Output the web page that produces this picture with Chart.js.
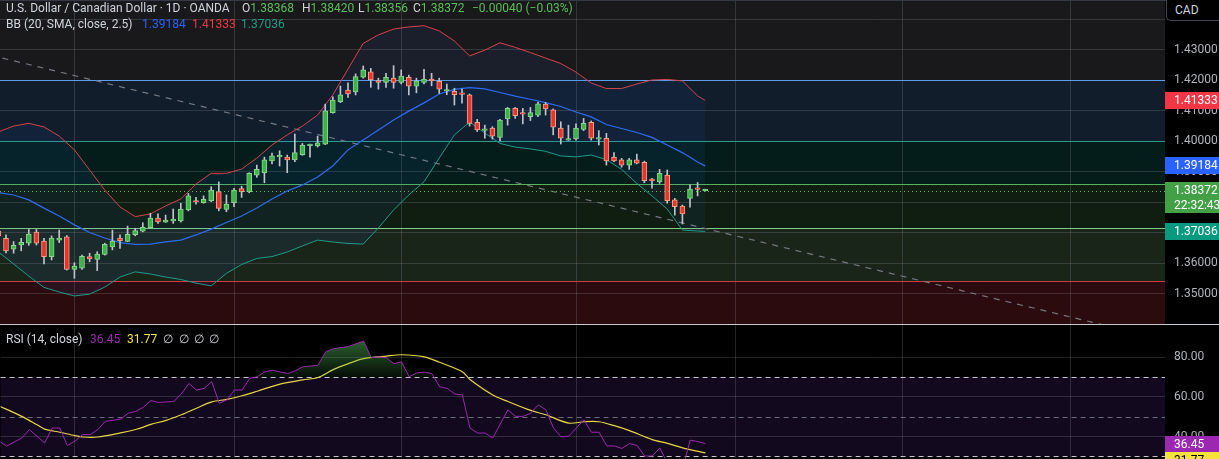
<!DOCTYPE html>
<html>
<head>
<meta charset="utf-8">
<title>USDCAD 1D</title>
<script src="https://cdn.jsdelivr.net/npm/chart.js@4.4.1/dist/chart.umd.min.js"></script>
<style>
  html, body { margin: 0; padding: 0; background: #000; overflow: hidden; }
  #wrap { position: relative; width: 1219px; height: 459px; font-family: Roboto, "Noto Sans", sans-serif; }
  canvas { position: absolute; left: 0; }
  #priceChart { top: 0; }
  #rsiChart { top: 325px; }
  .sep { position: absolute; left: 0; width: 1219px; height: 1px; }
  .lg { position: absolute; font-size: 12px; line-height: 16px; color: #d1d4dc; white-space: nowrap; }
  .up { color: #5cbf5a; }
  #cad { position: absolute; left: 1166px; top: -1px; width: 53px; height: 22px; border: 1px solid #434651; border-right: none;
         border-radius: 0 0 0 5px; box-sizing: border-box; color: #d1d4dc; font-size: 12px; line-height: 20px; padding-left: 8px; background: #000; }
</style>
</head>
<body>
<div id="wrap">
  <canvas id="priceChart" width="1219" height="324"></canvas>
  <div class="sep" style="top:324px;background:#c8cbd2"></div>
  <canvas id="rsiChart" width="1219" height="134"></canvas>
  <div class="sep" style="top:0;background:#363a45"></div>
  <div id="cad">CAD</div>
  <div id="legend"></div>
</div>
<script>
// daily candles, index 0 is the half hidden bar at the left edge
const openP = [1.3705, 1.3681, 1.3645, 1.3659, 1.3665, 1.3701, 1.3672, 1.3621, 1.3675, 1.3686,
  1.3579, 1.3583, 1.3621, 1.3612, 1.3628, 1.3653, 1.3682, 1.3671, 1.3693, 1.3704,
  1.3716, 1.3747, 1.3734, 1.3738, 1.3738, 1.3774, 1.3803, 1.3798, 1.3804, 1.3834,
  1.3776, 1.3798, 1.3844, 1.3834, 1.3888, 1.3896, 1.3935, 1.3948, 1.3947, 1.3938,
  1.3955, 1.3985, 1.3984, 1.3990, 1.4093, 1.4129, 1.4167, 1.4161, 1.4209, 1.4227,
  1.4198, 1.4192, 1.4206, 1.4192, 1.4209, 1.4180, 1.4192, 1.4203, 1.4196, 1.4164,
  1.4163, 1.4155, 1.4151, 1.4061, 1.4035, 1.4042, 1.4012, 1.4072, 1.4107, 1.4089,
  1.4080, 1.4085, 1.4121, 1.4102, 1.4042, 1.4003, 1.4007, 1.4038, 1.4061, 1.4006,
  1.4009, 1.3947, 1.3938, 1.3921, 1.3938, 1.3930, 1.3874, 1.3866, 1.3888, 1.3807,
  1.3787, 1.3812, 1.3843, 1.38368];
const highP = [1.3711, 1.3692, 1.3670, 1.3681, 1.3710, 1.3710, 1.3681, 1.3689, 1.3708, 1.3690,
  1.3601, 1.3626, 1.3632, 1.3637, 1.3665, 1.3708, 1.3692, 1.3721, 1.3714, 1.3732,
  1.3763, 1.3761, 1.3757, 1.3777, 1.3796, 1.3828, 1.3815, 1.3820, 1.3850, 1.3866,
  1.3823, 1.3845, 1.3852, 1.3896, 1.3921, 1.3947, 1.3960, 1.3968, 1.3954, 1.4023,
  1.3992, 1.3990, 1.4016, 1.4121, 1.4145, 1.4180, 1.4191, 1.4220, 1.4246, 1.4238,
  1.4206, 1.4222, 1.4247, 1.4233, 1.4216, 1.4206, 1.4235, 1.4222, 1.4206, 1.4187,
  1.4173, 1.4170, 1.4154, 1.4071, 1.4052, 1.4047, 1.4071, 1.4110, 1.4110, 1.4107,
  1.4110, 1.4128, 1.4126, 1.4105, 1.4063, 1.4052, 1.4056, 1.4074, 1.4066, 1.4034,
  1.4025, 1.3962, 1.3943, 1.3943, 1.3957, 1.3934, 1.3878, 1.3907, 1.3905, 1.3812,
  1.3790, 1.3856, 1.3864, 1.38420];
const lowP = [1.3682, 1.3633, 1.3632, 1.3640, 1.3658, 1.3659, 1.3597, 1.3610, 1.3667, 1.3577,
  1.3550, 1.3579, 1.3604, 1.3575, 1.3626, 1.3643, 1.3648, 1.3670, 1.3689, 1.3702,
  1.3716, 1.3730, 1.3733, 1.3730, 1.3734, 1.3771, 1.3793, 1.3796, 1.3801, 1.3771,
  1.3768, 1.3785, 1.3815, 1.3830, 1.3881, 1.3863, 1.3925, 1.3918, 1.3896, 1.3932,
  1.3953, 1.3947, 1.3980, 1.3988, 1.4091, 1.4126, 1.4143, 1.4151, 1.4206, 1.4176,
  1.4170, 1.4176, 1.4173, 1.4187, 1.4151, 1.4158, 1.4187, 1.4181, 1.4156, 1.4152,
  1.4118, 1.4124, 1.4049, 1.4031, 1.4009, 1.4006, 1.4001, 1.4052, 1.4074, 1.4056,
  1.4067, 1.4080, 1.4085, 1.4020, 1.3990, 1.4002, 1.4003, 1.4034, 1.4003, 1.3987,
  1.3921, 1.3932, 1.3914, 1.3907, 1.3925, 1.3863, 1.3845, 1.3861, 1.3796, 1.3757,
  1.3728, 1.3783, 1.3820, 1.38356];
const closeP = [1.3689, 1.3640, 1.3658, 1.3668, 1.3695, 1.3665, 1.3621, 1.3682, 1.3682, 1.3579,
  1.3590, 1.3622, 1.3613, 1.3629, 1.3661, 1.3672, 1.3673, 1.3694, 1.3706, 1.3717,
  1.3747, 1.3735, 1.3741, 1.3741, 1.3777, 1.3820, 1.3800, 1.3809, 1.3839, 1.3779,
  1.3793, 1.3839, 1.3834, 1.3894, 1.3907, 1.3938, 1.3951, 1.3950, 1.3938, 1.3962,
  1.3987, 1.3987, 1.3994, 1.4099, 1.4134, 1.4151, 1.4154, 1.4211, 1.4233, 1.4200,
  1.4192, 1.4209, 1.4192, 1.4213, 1.4180, 1.4197, 1.4203, 1.4197, 1.4170, 1.4166,
  1.4152, 1.4153, 1.4058, 1.4036, 1.4036, 1.4016, 1.4069, 1.4107, 1.4083, 1.4088,
  1.4093, 1.4122, 1.4105, 1.4045, 1.4009, 1.4008, 1.4042, 1.4058, 1.4009, 1.4008,
  1.3935, 1.3935, 1.3921, 1.3938, 1.3927, 1.3870, 1.3870, 1.3894, 1.3804, 1.3785,
  1.3761, 1.3842, 1.38412, 1.38372];

// Bollinger Bands (20, SMA, close, 2.5)
const bandIdx = [0, 2, 4, 6, 8, 10, 12, 14, 16, 18, 20, 22, 24, 26, 28, 30, 32, 34, 36, 38,
  40, 42, 44, 46, 48, 50, 52, 54, 56, 58, 60, 62, 64, 66, 68, 70, 72, 74, 76, 78,
  80, 82, 84, 86, 88, 90, 92, 93];
const bbUpper = [1.4030, 1.4049, 1.4058, 1.4046, 1.4016, 1.3971, 1.3905, 1.3839, 1.3784, 1.3752,
  1.3761, 1.3787, 1.3810, 1.3859, 1.3894, 1.3894, 1.3908, 1.3944, 1.3987, 1.4020,
  1.4049, 1.4085, 1.4151, 1.4236, 1.4320, 1.4348, 1.4367, 1.4374, 1.4378, 1.4361,
  1.4328, 1.4279, 1.4298, 1.4322, 1.4307, 1.4290, 1.4272, 1.4254, 1.4226, 1.4190,
  1.4172, 1.4172, 1.4187, 1.4200, 1.4202, 1.4197, 1.4148, 1.41333];
const bbMid = [1.3831, 1.3823, 1.3807, 1.3780, 1.3754, 1.3725, 1.3700, 1.3682, 1.3667, 1.3661,
  1.3662, 1.3669, 1.3675, 1.3692, 1.3711, 1.3733, 1.3754, 1.3780, 1.3810, 1.3836,
  1.3856, 1.3882, 1.3918, 1.3971, 1.4003, 1.4036, 1.4069, 1.4098, 1.4125, 1.4154,
  1.4169, 1.4175, 1.4171, 1.4159, 1.4147, 1.4137, 1.4126, 1.4113, 1.4095, 1.4079,
  1.4054, 1.4041, 1.4028, 1.4012, 1.3987, 1.3962, 1.3931, 1.39184];
const bbLower = [1.3636, 1.3597, 1.3557, 1.3520, 1.3505, 1.3492, 1.3498, 1.3521, 1.3554, 1.3571,
  1.3564, 1.3554, 1.3546, 1.3534, 1.3525, 1.3566, 1.3595, 1.3615, 1.3621, 1.3636,
  1.3656, 1.3675, 1.3669, 1.3664, 1.3662, 1.3715, 1.3774, 1.3823, 1.3866, 1.3944,
  1.4020, 1.4062, 1.4026, 1.3992, 1.3980, 1.3974, 1.3966, 1.3951, 1.3948, 1.3954,
  1.3939, 1.3907, 1.3861, 1.3820, 1.3777, 1.3708, 1.3705, 1.37036];

// dashed trend line, two anchors in bar index / price
const trendIdx = [-1, 150];
const trendVal = [1.4281, 1.3369];

// drawn horizontal levels, top to bottom
const zoneLevels = [1.4200, 1.4000, 1.3859, 1.3715, 1.3541];

const priceTicks = [1.35, 1.36, 1.37, 1.38, 1.39, 1.40, 1.41, 1.42, 1.43, 1.44];
const monthIdx = [10, 31, 53, 76, 97, 119, 141];
const countdown = "22:32:43";

// RSI (14, close) and its moving average
const rsiIdx = [0, 1, 3, 4, 6, 7, 8, 9, 10, 11, 12, 13, 14, 16, 17, 18, 19, 20, 21, 23,
  24, 25, 26, 27, 28, 29, 30, 31, 32, 33, 34, 35, 36, 38, 39, 40, 42, 43, 44, 46,
  47, 48, 49, 50, 51, 52, 53, 54, 55, 56, 57, 58, 59, 60, 61, 62, 63, 64, 65, 67,
  68, 69, 70, 71, 72, 73, 74, 75, 77, 78, 79, 80, 81, 82, 83, 84, 85, 86, 87, 88,
  89, 90, 91, 92, 93];
const rsiVal = [37.7, 35.2, 39.3, 43.5, 36.8, 44.3, 44.3, 35.5, 37.7, 41, 41, 43.5, 47.7, 48.8, 51.8, 52.7, 54.8, 58.2, 57.2, 57.7,
  61.5, 66.8, 63.5, 64.3, 67.7, 56.8, 58.5, 63.5, 63.5, 69.3, 70.2, 72.7, 73.5, 71.8, 73.2, 75.2, 76, 82.7, 84.3, 85.5,
  86.8, 88.2, 79.8, 80.2, 79.8, 76.8, 77.7, 70.2, 72.2, 72.5, 71.8, 65.2, 64.3, 61.5, 61, 44.3, 41.8, 41.8, 39.3, 53.5,
  50.2, 50.2, 51.8, 56, 53.5, 44.3, 39.8, 40.2, 48.5, 42.2, 42.2, 35.3, 35.3, 34, 36.5, 35.5, 30.2, 30.2, 34.3, 26.5,
  25.5, 24, 38.2, 37.5, 36.45];
const maIdx = [0, 3, 5, 6, 8, 10, 11, 13, 16, 18, 19, 20, 22, 24, 26, 28, 30, 32, 34, 37,
  40, 42, 44, 46, 48, 51, 53, 56, 58, 61, 62, 65, 67, 70, 72, 75, 77, 79, 81, 83,
  86, 88, 90, 93];
const maVal = [55.5, 50.2, 46, 43.8, 42.2, 40.5, 39.8, 39.8, 41.9, 43.6, 44.8, 46.2, 48.2, 51, 54.3, 57.5, 58.8, 60.6, 62.9, 66.5,
  68.6, 69.8, 73.8, 76.8, 79.3, 80.6, 81.3, 80.2, 77.5, 72.7, 68.8, 61, 57.7, 53.2, 51, 46.8, 47.5, 47.5, 45.5, 43,
  38.5, 36.6, 34.3, 31.77];
const rsiTicks = [40, 60, 80];
const rsiLevels = [70, 50, 30];

// view: one bar = 7.6px, chart area 1165px wide
const xMin = 0.21;
const xMax = 153.5;

const UP = "#3fb24a", UP_EDGE = "#8ad68e";
const DOWN = "#e5362d", DOWN_EDGE = "#f5a08a";
const GRID = "rgba(140,143,150,0.26)";
const AXIS_TEXT = "#b2b5be";

Chart.defaults.font.family = 'Roboto, "Noto Sans", sans-serif';
Chart.defaults.font.size = 12;

const last = arr => arr[arr.length - 1];
const bars = openP.map((_, i) => i);

function badge(ctx, x, w, top, h, bg, fg, lines) {
  ctx.fillStyle = bg;
  ctx.fillRect(x, top, w, h);
  ctx.fillStyle = fg;
  ctx.textBaseline = "middle";
  ctx.textAlign = "left";
  lines.forEach((t, k) => ctx.fillText(t, x + 9, top + 8.5 + k * 15));
}

function xAxis() {
  return {
    type: "linear", min: xMin, max: xMax, offset: false,
    grid: { color: GRID, drawTicks: false, offset: false },
    border: { display: false },
    ticks: { display: false },
    afterBuildTicks: s => { s.ticks = monthIdx.map(v => ({ value: v })); },
    afterFit: s => { s.height = 0; }
  };
}

const pricePaint = {
  id: "pricePaint",
  beforeDraw(chart) {
    const { ctx, chartArea: a, scales: { y } } = chart;
    const fills = ["#111d2b", "#041d1a", "#0f1e10", "#1a251a", "#2b0b0e"];
    ctx.save();
    ctx.fillStyle = "#000";
    ctx.fillRect(0, 0, chart.width, chart.height);
    ctx.fillStyle = "#19191b";
    ctx.fillRect(a.left, a.top, a.right - a.left, a.bottom - a.top);
    zoneLevels.forEach((lv, k) => {
      const top = y.getPixelForValue(lv);
      const bot = k < zoneLevels.length - 1 ? y.getPixelForValue(zoneLevels[k + 1]) : a.bottom;
      ctx.fillStyle = fills[k];
      ctx.fillRect(a.left, top, a.right - a.left, bot - top);
    });
    ctx.restore();
  },
  beforeDatasetsDraw(chart) {
    const { ctx, chartArea: a, scales: { y } } = chart;
    const lines = ["#5e9de8", "#2a9d8c", "#57b35a", "#86cc86", "#cc3d45"];
    ctx.save();
    ctx.lineWidth = 1.2;
    zoneLevels.forEach((lv, k) => {
      const py = Math.round(y.getPixelForValue(lv)) + 0.5;
      ctx.strokeStyle = lines[k];
      ctx.beginPath();
      ctx.moveTo(a.left, py);
      ctx.lineTo(a.right, py);
      ctx.stroke();
    });
    ctx.restore();
  },
  afterDatasetsDraw(chart) {
    const { ctx, chartArea: a, scales: { y } } = chart;
    const py = Math.round(y.getPixelForValue(last(closeP))) + 0.5;
    ctx.save();
    ctx.strokeStyle = "#5cbf5a";
    ctx.setLineDash([1, 3]);
    ctx.beginPath();
    ctx.moveTo(a.left, py);
    ctx.lineTo(a.right, py);
    ctx.stroke();
    ctx.restore();
  },
  afterDraw(chart) {
    const { ctx, chartArea: a, scales: { y } } = chart;
    const w = chart.width - a.right;
    ctx.save();
    ctx.font = '12px Roboto, "Noto Sans", sans-serif';
    const items = [
      [last(bbUpper), "#f23645", [last(bbUpper).toFixed(5)]],
      [last(bbMid), "#2962ff", [last(bbMid).toFixed(5)]],
      [last(closeP), "#43a047", [last(closeP).toFixed(5), countdown]],
      [last(bbLower), "#089981", [last(bbLower).toFixed(5)]]
    ];
    items.forEach(([v, bg, txt]) => {
      const py = y.getPixelForValue(v);
      badge(ctx, a.right, w, Math.round(py - 8.5), txt.length > 1 ? 31 : 17, bg, "#fff", txt);
    });
    ctx.restore();
  }
};

new Chart(document.getElementById("priceChart"), {
  type: "bar",
  data: {
    datasets: [
      {
        type: "bar", order: 1, grouped: false,
        data: bars.map(i => ({ x: i, y: [lowP[i], highP[i]] })),
        backgroundColor: "#c0c3c9", borderWidth: 0, barThickness: 1
      },
      {
        type: "bar", order: 0, grouped: false,
        data: bars.map(i => ({ x: i, y: [openP[i], closeP[i]] })),
        backgroundColor: bars.map(i => closeP[i] >= openP[i] ? UP : DOWN),
        borderColor: bars.map(i => closeP[i] >= openP[i] ? UP_EDGE : DOWN_EDGE),
        borderWidth: 1, borderSkipped: false, barThickness: 5, minBarLength: 1.5
      },
      {
        type: "line", order: 2,
        data: bandIdx.map((x, k) => ({ x, y: bbUpper[k] })),
        borderColor: "#d6434c", borderWidth: 1, pointRadius: 0, tension: 0,
        fill: "+2", backgroundColor: "rgba(41,120,255,0.07)"
      },
      {
        type: "line", order: 2,
        data: bandIdx.map((x, k) => ({ x, y: bbMid[k] })),
        borderColor: "#2f6bef", borderWidth: 1.2, pointRadius: 0, tension: 0, fill: false
      },
      {
        type: "line", order: 2,
        data: bandIdx.map((x, k) => ({ x, y: bbLower[k] })),
        borderColor: "#1f9d86", borderWidth: 1, pointRadius: 0, tension: 0, fill: false
      },
      {
        type: "line", order: 3,
        data: trendIdx.map((x, k) => ({ x, y: trendVal[k] })),
        borderColor: "#74777f", borderWidth: 1.2, borderDash: [6, 6], pointRadius: 0, fill: false
      }
    ]
  },
  options: {
    responsive: false, animation: false, devicePixelRatio: 1, events: [],
    layout: { padding: 0 },
    plugins: { legend: { display: false }, tooltip: { enabled: false } },
    scales: {
      x: xAxis(),
      y: {
        type: "linear", position: "right", min: 1.34, max: 1.44623,
        grid: { color: GRID, drawTicks: false },
        border: { display: false },
        ticks: {
          color: AXIS_TEXT, padding: 9,
          callback: v => (v > 1.435 ? "" : Number(v).toFixed(5))
        },
        afterBuildTicks: s => { s.ticks = priceTicks.map(v => ({ value: v })); },
        afterFit: s => { s.width = 54; s.paddingTop = 0; s.paddingBottom = 0; }
      }
    }
  },
  plugins: [pricePaint]
});

const rsiPaint = {
  id: "rsiPaint",
  beforeDraw(chart) {
    const { ctx, chartArea: a, scales: { y } } = chart;
    ctx.save();
    ctx.fillStyle = "#000";
    ctx.fillRect(0, 0, chart.width, chart.height);
    const t = y.getPixelForValue(rsiLevels[0]);
    const b = y.getPixelForValue(last(rsiLevels));
    ctx.fillStyle = "#13091e";
    ctx.fillRect(a.left, t, a.right - a.left, b - t);
    ctx.restore();
  },
  beforeDatasetsDraw(chart) {
    const { ctx, chartArea: a, scales: { y } } = chart;
    ctx.save();
    ctx.setLineDash([5, 4]);
    ctx.lineWidth = 1;
    rsiLevels.forEach(lv => {
      const py = Math.round(y.getPixelForValue(lv)) + 0.5;
      ctx.strokeStyle = lv === 50 ? "#6b6e76" : "#c3c6cc";
      ctx.beginPath();
      ctx.moveTo(a.left, py);
      ctx.lineTo(a.right, py);
      ctx.stroke();
    });
    ctx.restore();
  },
  afterDraw(chart) {
    const { ctx, chartArea: a, scales: { y } } = chart;
    const w = chart.width - a.right;
    ctx.save();
    ctx.font = '12px Roboto, "Noto Sans", sans-serif';
    const rTop = Math.round(y.getPixelForValue(last(rsiVal)) - 8);
    badge(ctx, a.right, w, rTop, 16, "#9c27b0", "#fff", [last(rsiVal).toFixed(2)]);
    const mTop = Math.max(Math.round(y.getPixelForValue(last(maVal)) - 8), rTop + 16);
    badge(ctx, a.right, w, mTop, 16, "#f5e33c", "#000", [last(maVal).toFixed(2)]);
    ctx.restore();
  }
};

const rsiChart = new Chart(document.getElementById("rsiChart"), {
  type: "line",
  data: {
    datasets: [
      {
        data: rsiIdx.map((x, k) => ({ x, y: rsiVal[k] })),
        borderColor: "#9c27b0", borderWidth: 1, pointRadius: 0, tension: 0, fill: false
      },
      {
        data: maIdx.map((x, k) => ({ x, y: maVal[k] })),
        borderColor: "#e6d645", borderWidth: 1.2, pointRadius: 0, tension: 0.3, fill: false
      }
    ]
  },
  options: {
    responsive: false, animation: false, devicePixelRatio: 1, events: [],
    layout: { padding: 0 },
    plugins: { legend: { display: false }, tooltip: { enabled: false } },
    scales: {
      x: xAxis(),
      y: {
        type: "linear", position: "right", min: 29, max: 96,
        grid: { color: GRID, drawTicks: false },
        border: { display: false },
        ticks: { color: AXIS_TEXT, padding: 9, callback: v => Number(v).toFixed(2) },
        afterBuildTicks: s => { s.ticks = rsiTicks.map(v => ({ value: v })); },
        afterFit: s => { s.width = 54; s.paddingTop = 0; s.paddingBottom = 0; }
      }
    }
  },
  plugins: [rsiPaint]
});

// green fill where RSI is above the 70 line
const ry = rsiChart.scales.y;
const grad = rsiChart.ctx.createLinearGradient(0, ry.getPixelForValue(90), 0, ry.getPixelForValue(70));
grad.addColorStop(0, "rgba(76,175,80,0.6)");
grad.addColorStop(1, "rgba(76,175,80,0.08)");
rsiChart.data.datasets[0].fill = { target: { value: 70 }, above: grad, below: "rgba(0,0,0,0)" };
rsiChart.update("none");

// header texts
const n = openP.length - 1;
const chg = closeP[n] - closeP[n - 1];
const pct = chg / closeP[n - 1] * 100;
const sign = v => (v < 0 ? "\u2212" : "+") + Math.abs(v);
const fmtSigned = (v, d) => (v < 0 ? "\u2212" : "+") + Math.abs(v).toFixed(d);
const items = [
  [6, 0, 'U.S. Dollar / Canadian Dollar · 1D · OANDA'],
  [242, 0, 'O<span class="up">' + openP[n].toFixed(5) + '</span>'],
  [302, 0, 'H<span class="up">' + highP[n].toFixed(5) + '</span>'],
  [358, 0, 'L<span class="up">' + lowP[n].toFixed(5) + '</span>'],
  [413, 0, 'C<span class="up">' + closeP[n].toFixed(5) + '</span>'],
  [472, 0, '<span class="up">' + fmtSigned(chg, 5) + ' (' + fmtSigned(pct, 2) + '%)</span>'],
  [6, 16, 'BB (20, SMA, close, 2.5)'],
  [142, 16, '<span style="color:#2962ff">' + last(bbMid).toFixed(5) + '</span>'],
  [192, 16, '<span style="color:#f23645">' + last(bbUpper).toFixed(5) + '</span>'],
  [241, 16, '<span style="color:#1f9d86">' + last(bbLower).toFixed(5) + '</span>'],
  [6, 331, 'RSI (14, close)'],
  [90, 331, '<span style="color:#9c27b0">' + last(rsiVal).toFixed(2) + '</span>'],
  [127, 331, '<span style="color:#f5e33c">' + last(maVal).toFixed(2) + '</span>'],
  [163, 331, '\u2205'], [179, 331, '\u2205'], [194, 331, '\u2205'], [209, 331, '\u2205']
];
document.getElementById("legend").innerHTML = items
  .map(([l, t, h]) => '<div class="lg" style="left:' + l + 'px;top:' + t + 'px">' + h + '</div>')
  .join("");
</script>
</body>
</html>
